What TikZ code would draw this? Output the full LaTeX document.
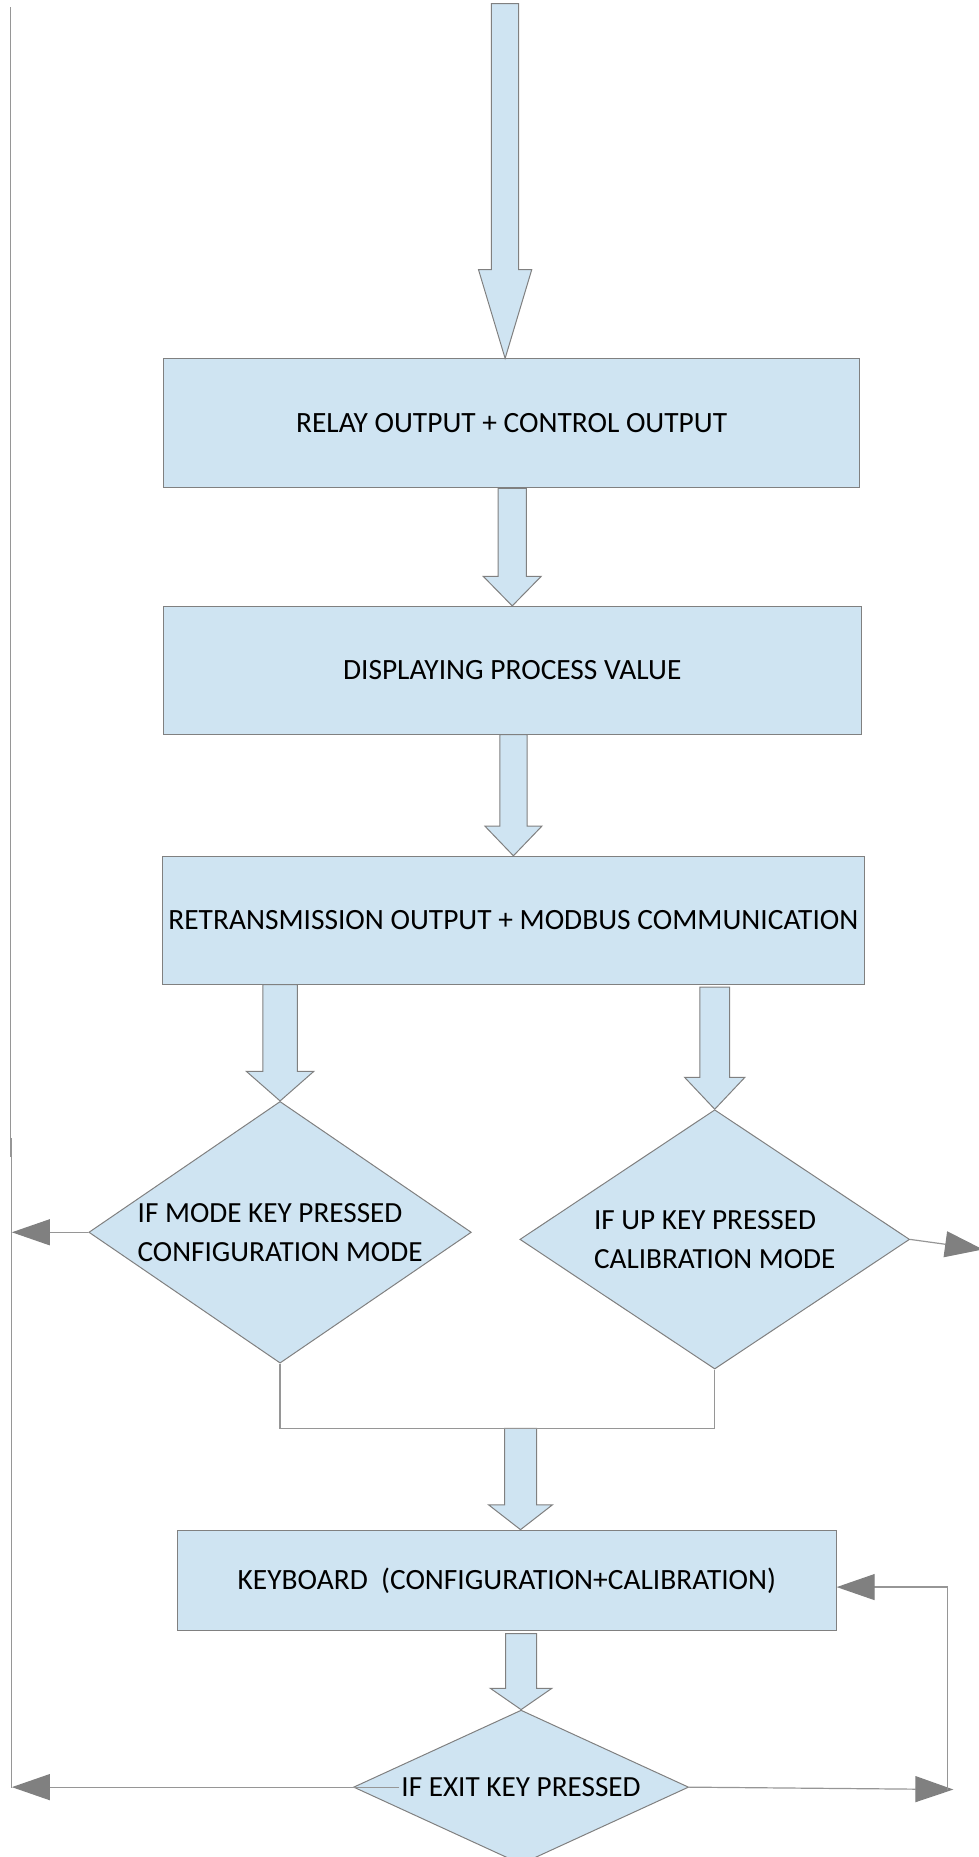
\documentclass[tikz,border=0pt]{standalone}
\usepackage{fontspec}
\setmainfont{Carlito}
\usetikzlibrary{shapes.geometric,arrows.meta,calc}

\definecolor{boxblue}{RGB}{207,228,242}
\definecolor{edgegray}{RGB}{128,128,128}
\definecolor{linegray}{RGB}{150,150,150}

\tikzset{
  block/.style={rectangle, draw=edgegray, fill=boxblue, line width=0.5pt, inner sep=1pt,
    font=\fontsize{14.7}{17}\selectfont},
  decision/.style={diamond, draw=edgegray, fill=boxblue, line width=0.5pt, inner sep=0pt},
  dtext/.style={align=left, inner sep=1pt, font=\fontsize{14.6}{19.5}\selectfont},
  fatarrow/.style={draw=edgegray, fill=boxblue, line width=0.5pt},
  flow/.style={draw=linegray, line width=0.6pt},
  flowarrow/.style={flow, -{Triangle[length=19pt,width=13pt,color=edgegray,fill=edgegray]}}
}

% flecha gruesa: inicio, punta, medio fuste, media cabeza, largo cabeza
\newcommand{\fatarrow}[5]{%
  \draw[fatarrow] ($(#1)+(-#3,0)$) -- ($(#2)+(-#3,-#5)$) -- ($(#2)+(-#4,-#5)$) -- (#2)
    -- ($(#2)+(#4,-#5)$) -- ($(#2)+(#3,-#5)$) -- ($(#1)+(#3,0)$) -- cycle;}

\begin{document}
\begin{tikzpicture}[x=0.592pt, y=-0.592pt]
\useasboundingbox (0,0) rectangle (826,1568);

% Bloques
\node[block, minimum width=348.1pt, minimum height=64.5pt] (relay) at (432,357.5)
  {RELAY OUTPUT + CONTROL OUTPUT};
\node[block, minimum width=348.7pt, minimum height=63.9pt] (display) at (432.5,566)
  {DISPLAYING PROCESS VALUE};
\node[block, minimum width=351.1pt, minimum height=63.9pt] (retrans) at (433.5,777)
  {RETRANSMISSION OUTPUT + MODBUS COMMUNICATION};
\node[block, minimum width=329.2pt, minimum height=50.3pt] (keyboard) at (428,1334.5)
  {KEYBOARD\ \ (CONFIGURATION+CALIBRATION)};

% Decisiones
\node[decision, minimum width=191.2pt, minimum height=130.8pt,
  label={[dtext, name=modetext]center:IF MODE KEY PRESSED\\CONFIGURATION MODE}] (mode) at (236.5,1040.5) {};
\node[decision, minimum width=194.8pt, minimum height=129.6pt,
  label={[dtext, name=uptext]center:IF UP KEY PRESSED\\CALIBRATION MODE}] (up) at (603.5,1046.5) {};
\node[decision, minimum width=167.5pt, minimum height=77pt,
  label={[dtext, name=exittext]center:IF EXIT KEY PRESSED}] (exit) at (440,1509) {};

% Puntos libres
\coordinate (topin) at (426.5,3);
\coordinate (ltop) at (9,6);
\coordinate (ljog) at (9,977);
\coordinate (ljog2) at (10,961);
\coordinate (lbot) at (10,1510);
\coordinate (merge) at (439.5,1206);
\coordinate (upout) at (830,1055);
\coordinate (exitR) at (805,1511);
\coordinate (rbus) at (800,1511);

\coordinate (a1) at (topin |- relay.north);
\coordinate (a2) at (display.north |- relay.south);
\coordinate (a3) at (retrans.north |- display.south);
\coordinate (a4) at (mode.north |- retrans.south);
\coordinate (a5) at ($(up.north |- retrans.south)+(0,2)$);
\coordinate (a6) at (merge |- keyboard.north);
\coordinate (a7) at ($(exit.north |- keyboard.south)+(0,2)$);

% Flechas gruesas
\foreach \a/\b/\s/\h/\l in {topin/a1/11.5/22.5/75, a2/display.north/12/24.5/25,
    a3/retrans.north/11.5/24/25, a4/mode.north/14.5/28.5/25, a5/up.north/12.5/25.5/27,
    merge/a6/13.5/27/21, a7/exit.north/13/26/18}
  \fatarrow{\a}{\b}{\s}{\h}{\l};

% Lineas de retorno
\draw[flow] (ltop) -- (ljog);
\draw[flow] (ljog2) -- (lbot);
\draw[flowarrow] (mode.west) -- (mode.west -| lbot);
\draw[flowarrow] (up.east) -- (upout);
\draw[flow] (mode.south) |- (merge) -| (up.south);
\draw[flowarrow] (exittext.west) -- (exittext.west -| lbot);
\draw[flowarrow] (exit.east) -- (exitR);
\draw[flowarrow] (rbus) |- ([yshift=-3.3pt]keyboard.east);
\end{tikzpicture}
\end{document}
